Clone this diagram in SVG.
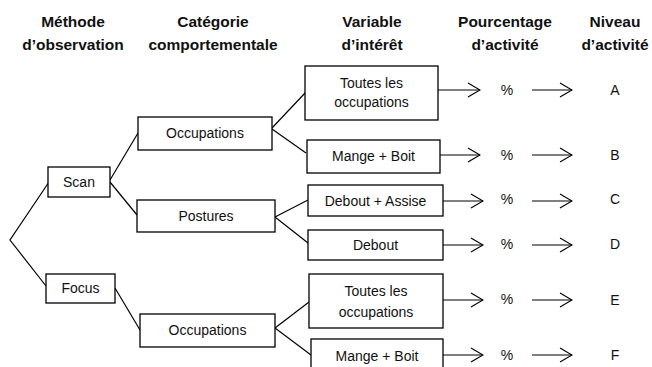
<svg xmlns="http://www.w3.org/2000/svg" width="652" height="367" viewBox="0 0 652 367">
<defs>
<marker id="ah" markerWidth="14" markerHeight="16" refX="13" refY="8" orient="auto" markerUnits="userSpaceOnUse">
<path d="M1,1 L13,8 L1,15" fill="none" stroke="#000" stroke-width="1.2"/>
</marker>
<style>
.hd{font-family:"Liberation Sans",Arial,sans-serif;font-weight:bold;font-size:15.5px;fill:#111;text-anchor:middle}
.bx{fill:#fff;stroke:#000;stroke-width:1.3}
.t{font-family:"Liberation Sans",Arial,sans-serif;font-size:14px;fill:#111;text-anchor:middle}
.ln{stroke:#000;stroke-width:1.2;fill:none}
.ar{stroke:#000;stroke-width:1.2;fill:none;marker-end:url(#ah)}
</style>
</defs>
<rect width="652" height="367" fill="#fff"/>
<g id="headers">
<text class="hd" x="73" y="27">Méthode</text>
<text class="hd" x="73" y="50">d’observation</text>
<text class="hd" x="213" y="27">Catégorie</text>
<text class="hd" x="213" y="50">comportementale</text>
<text class="hd" x="372" y="27">Variable</text>
<text class="hd" x="372" y="50">d’intérêt</text>
<text class="hd" x="505" y="27">Pourcentage</text>
<text class="hd" x="505" y="50">d’activité</text>
<text class="hd" x="615" y="27">Niveau</text>
<text class="hd" x="615" y="50">d’activité</text>
</g>
<g id="connectors">
<polyline class="ln" points="49,182 10,240 46,286"/>
<line class="ln" x1="110" y1="180" x2="138" y2="133"/>
<line class="ln" x1="110" y1="182" x2="137" y2="215"/>
<line class="ln" x1="115" y1="288" x2="140" y2="330"/>
<line class="ln" x1="272" y1="128" x2="306" y2="92"/>
<line class="ln" x1="272" y1="129" x2="306" y2="153"/>
<line class="ln" x1="275" y1="217" x2="308" y2="200"/>
<line class="ln" x1="275" y1="217" x2="308" y2="243"/>
<line class="ln" x1="275" y1="328" x2="309" y2="302"/>
<line class="ln" x1="275" y1="328" x2="311" y2="355"/>
<line class="ar" x1="438" y1="90" x2="480" y2="90"/>
<line class="ar" x1="532" y1="90" x2="572" y2="90"/>
<line class="ar" x1="440" y1="155" x2="480" y2="155"/>
<line class="ar" x1="532" y1="155" x2="572" y2="155"/>
<line class="ar" x1="443" y1="201" x2="483" y2="201"/>
<line class="ar" x1="532" y1="201" x2="572" y2="201"/>
<line class="ar" x1="442" y1="245" x2="483" y2="245"/>
<line class="ar" x1="532" y1="245" x2="572" y2="245"/>
<line class="ar" x1="443" y1="300" x2="483" y2="300"/>
<line class="ar" x1="532" y1="300" x2="572" y2="300"/>
<line class="ar" x1="443" y1="355" x2="483" y2="355"/>
<line class="ar" x1="532" y1="355" x2="572" y2="355"/>
</g>
<g id="scan"><rect class="bx" x="48" y="167" width="62" height="30"/><text class="t" x="79" y="187">Scan</text></g>
<g id="focus"><rect class="bx" x="46" y="274" width="69" height="29"/><text class="t" x="80.5" y="293">Focus</text></g>
<g id="occupations1"><rect class="bx" x="138" y="117" width="134" height="33"/><text class="t" x="205" y="138">Occupations</text></g>
<g id="postures"><rect class="bx" x="137" y="200" width="138" height="32"/><text class="t" x="206" y="221">Postures</text></g>
<g id="occupations2"><rect class="bx" x="140" y="314" width="135" height="33"/><text class="t" x="207.5" y="335">Occupations</text></g>
<g id="toutes1"><rect class="bx" x="305" y="66" width="133" height="54"/><text class="t" x="371.5" y="88">Toutes les</text><text class="t" x="371.5" y="107">occupations</text></g>
<g id="mange1"><rect class="bx" x="307" y="140" width="133" height="33"/><text class="t" x="373.5" y="161">Mange + Boit</text></g>
<g id="deboutassise"><rect class="bx" x="308" y="185" width="135" height="31"/><text class="t" x="375.5" y="206">Debout + Assise</text></g>
<g id="debout"><rect class="bx" x="308" y="230" width="135" height="30"/><text class="t" x="375.5" y="250">Debout</text></g>
<g id="toutes2"><rect class="bx" x="309" y="274" width="134" height="54"/><text class="t" x="376" y="296">Toutes les</text><text class="t" x="376" y="317">occupations</text></g>
<g id="mange2"><rect class="bx" x="311" y="339" width="132" height="32"/><text class="t" x="377" y="361">Mange + Boit</text></g>
<g id="pct">
<text class="t" x="507" y="95">%</text>
<text class="t" x="507" y="160">%</text>
<text class="t" x="507" y="204">%</text>
<text class="t" x="507" y="249">%</text>
<text class="t" x="507" y="304">%</text>
<text class="t" x="507" y="360">%</text>
</g>
<g id="levels">
<text class="t" x="615" y="95">A</text>
<text class="t" x="615" y="160">B</text>
<text class="t" x="615" y="204">C</text>
<text class="t" x="615" y="249">D</text>
<text class="t" x="615" y="305">E</text>
<text class="t" x="615" y="360">F</text>
</g>
</svg>
